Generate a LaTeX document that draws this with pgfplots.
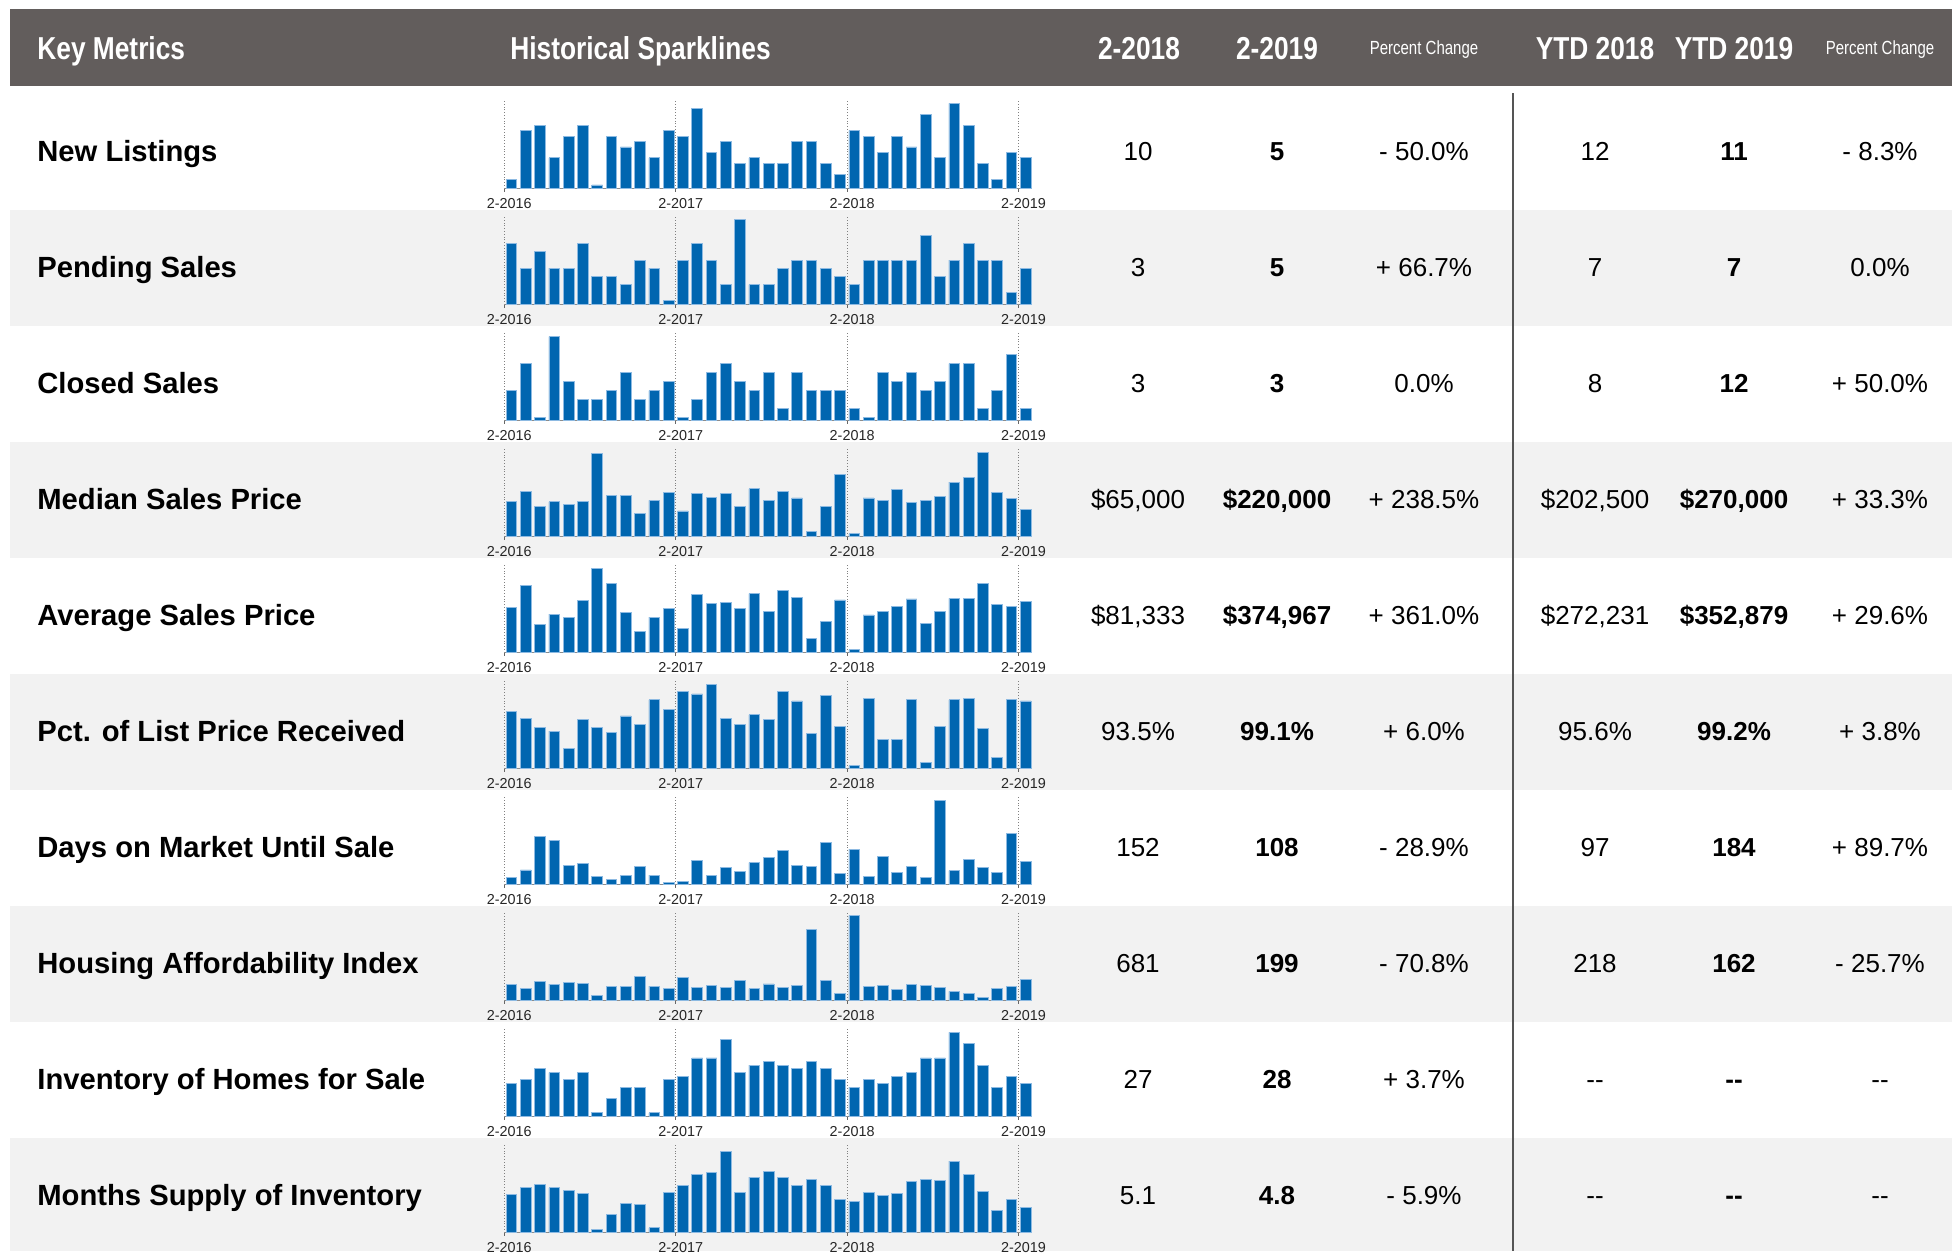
\documentclass[border=0pt]{standalone}
\usepackage{pgfplots}
\pgfplotsset{compat=1.18}
\usepackage{pgfplotstable}
\usepackage{fontspec}
\setmainfont{Liberation Sans}
\newfontfamily\condfont{Liberation Sans}[FakeStretch=0.83]
\newfontfamily\condsmall{Liberation Sans}[FakeStretch=0.79]

\definecolor{hdr}{HTML}{625D5C}
\definecolor{band}{HTML}{F2F2F2}
\definecolor{barfill}{HTML}{0066B0}
\definecolor{baredge}{HTML}{8DBAE2}
\definecolor{divider}{HTML}{555555}

% monthly values 2-2016 ... 2-2019 (37 months)
\pgfplotstableread[row sep=\\]{v\\1\\10\\11\\5\\9\\11\\0\\9\\7\\8\\5\\10\\9\\14\\6\\8\\4\\5\\4\\4\\8\\8\\4\\2\\10\\9\\6\\9\\7\\13\\5\\15\\11\\4\\1\\6\\5\\}\tNL
\pgfplotstableread[row sep=\\]{v\\8\\5\\7\\5\\5\\8\\4\\4\\3\\6\\5\\1\\6\\8\\6\\3\\11\\3\\3\\5\\6\\6\\5\\4\\3\\6\\6\\6\\6\\9\\4\\6\\8\\6\\6\\2\\5\\}\tPS
\pgfplotstableread[row sep=\\]{v\\5\\8\\2\\11\\6\\4\\4\\5\\7\\4\\5\\6\\2\\4\\7\\8\\6\\5\\7\\3\\7\\5\\5\\5\\3\\2\\7\\6\\7\\5\\6\\8\\8\\3\\5\\9\\3\\}\tCS
\pgfplotstableread[row sep=\\]{v\\269000\\335000\\237000\\269000\\254000\\269000\\577000\\309000\\309000\\195000\\279000\\328000\\211000\\322000\\296000\\322000\\239000\\352000\\279000\\335000\\294000\\82000\\239000\\445000\\65000\\294000\\279000\\347000\\265000\\279000\\303000\\394000\\424000\\583000\\328000\\288000\\220000\\}\tMSP
\pgfplotstableread[row sep=\\]{v\\340000\\473000\\236000\\300000\\279000\\385000\\581000\\487000\\312000\\193000\\281000\\334000\\212000\\420000\\367000\\373000\\334000\\426000\\314000\\446000\\401000\\153000\\255000\\386770\\81333\\295000\\316000\\348000\\393000\\242000\\318000\\397000\\397000\\487000\\359000\\345516\\374967\\}\tASP
\pgfplotstableread[row sep=\\]{v\\98.2\\97.6\\96.8\\96.5\\95.0\\97.5\\96.8\\96.4\\97.8\\97.1\\99.2\\98.4\\99.9\\99.7\\100.5\\97.6\\97.1\\97.9\\97.5\\99.9\\99.1\\96.3\\99.6\\96.86\\93.5\\99.3\\95.8\\95.8\\99.2\\93.8\\96.9\\99.2\\99.3\\96.7\\94.2\\99.2\\99.1\\}\tPLP
\pgfplotstableread[row sep=\\]{v\\47\\76\\200\\184\\92\\101\\53\\40\\57\\88\\57\\31\\35\\110\\55\\86\\70\\103\\123\\148\\93\\88\\178\\64\\152\\53\\124\\66\\88\\49\\330\\73\\113\\86\\66\\209\\108\\}\tDOM
\pgfplotstableread[row sep=\\]{v\\164\\131\\186\\164\\176\\169\\76\\144\\146\\222\\149\\134\\212\\139\\154\\141\\191\\131\\166\\139\\154\\578\\191\\96\\681\\146\\154\\124\\164\\154\\141\\109\\94\\66\\134\\149\\199\\}\tHAI
\pgfplotstableread[row sep=\\]{v\\28\\29\\32\\31\\29\\31\\20\\24\\27\\27\\20\\29\\30\\35\\35\\40\\31\\33\\34\\33\\32\\34\\32\\29\\27\\29\\28\\30\\31\\35\\35\\42\\39\\33\\27\\30\\28\\}\tINV
\pgfplotstableread[row sep=\\]{v\\5.48\\5.83\\5.97\\5.8\\5.67\\5.53\\3.72\\4.47\\5.0\\4.95\\3.8\\5.57\\5.92\\6.48\\6.57\\7.63\\5.57\\6.33\\6.62\\6.33\\5.9\\6.23\\5.9\\5.2\\5.1\\5.57\\5.4\\5.5\\6.1\\6.22\\6.15\\7.13\\6.48\\5.6\\4.65\\5.23\\4.8\\}\tMSI

\pgfplotsset{
  spark/.style={
    scale only axis, width=263.9pt, height=44.15pt,
    anchor=south west,
    xmin=-0.5, xmax=36.45,
    axis x line*=bottom, axis y line=none,
    x axis line style={draw=black!45, line width=0.5pt},
    xtick={-0.5,11.5,23.5,35.5},
    xticklabels={2-2016,2-2017,2-2018,2-2019},
    xmajorgrids,
    grid style={densely dotted, draw=black!50, line width=0.45pt},
    major tick length=1.5pt, tick align=outside,
    tick style={draw=black!60, line width=0.45pt},
    xticklabel style={font=\fontsize{7.2pt}{8pt}\selectfont, text=black!85, inner sep=0pt, xshift=2.5pt},
    xticklabel shift=3.5pt,
    ytick=\empty,
  },
  sparkbar/.style={ybar, bar width=0.75, fill=barfill, draw=baredge, line width=0.4pt},
}

\newcommand{\Spark}[4]{%
  \begin{axis}[spark, at={(252.15pt,{-(188.5+116*#1)*0.5pt})}, ymin=0, ymax=#4]
    \addplot[sparkbar] table[x index=0, y index=0, x expr=\coordindex, y expr={\thisrow{v}-(#3)}]{#2};
  \end{axis}}

\newcommand\lblfont{\fontsize{14.6pt}{17pt}\selectfont\bfseries}
\newcommand\valfont{\fontsize{13pt}{15pt}\selectfont}
\newcommand\hdrfont{\condfont\fontsize{15.85pt}{18pt}\selectfont\bfseries}
\newcommand\hdrsmall{\condsmall\fontsize{9.5pt}{11pt}\selectfont}

\newcommand{\Row}[8]{%
  \node[anchor=base west, font=\lblfont] at (37,{151.5+116*#1+10.4}) {#2};
  \node[anchor=base, font=\valfont] at (1138,{151.5+116*#1+9.3}) {#3};
  \node[anchor=base, font=\valfont\bfseries] at (1277,{151.5+116*#1+9.3}) {#4};
  \node[anchor=base, font=\valfont] at (1424,{151.5+116*#1+9.3}) {#5};
  \node[anchor=base, font=\valfont] at (1595,{151.5+116*#1+9.3}) {#6};
  \node[anchor=base, font=\valfont\bfseries] at (1734,{151.5+116*#1+9.3}) {#7};
  \node[anchor=base, font=\valfont] at (1880,{151.5+116*#1+9.3}) {#8};
}

\begin{document}
\begin{tikzpicture}
\begin{scope}[x=0.5pt, y=-0.5pt, every node/.style={inner sep=0pt}]
  \path[use as bounding box] (0,0) rectangle (1952,1251);
  \fill[hdr] (10,9.3) rectangle (1952,85.7);
  \foreach \k in {1,3,5,7} {\fill[band] (10,{93.5+116*\k}) rectangle (1952,{209.5+116*\k});}
  \fill[band] (10,{93.5+116*9}) rectangle (1952,1251);
  \draw[divider, line width=1pt] (1512.5,93) -- (1512.5,1251);
  % header
  \node[anchor=base west, font=\hdrfont, text=white] at (37,59.3) {Key Metrics};
  \node[anchor=base west, font=\hdrfont, text=white] at (510,59.3) {Historical Sparklines};
  \node[anchor=base, font=\hdrfont, text=white] at (1139,59.3) {2-2018};
  \node[anchor=base, font=\hdrfont, text=white] at (1277,59.3) {2-2019};
  \node[anchor=base, font=\hdrsmall, text=white] at (1424,54.3) {Percent Change};
  \node[anchor=base, font=\hdrfont, text=white] at (1595,59.3) {YTD 2018};
  \node[anchor=base, font=\hdrfont, text=white] at (1734,59.3) {YTD 2019};
  \node[anchor=base, font=\hdrsmall, text=white] at (1880,54.3) {Percent Change};
  % rows
  \Row{0}{New Listings}{10}{5}{- 50.0\%}{12}{11}{- 8.3\%}
  \Row{1}{Pending Sales}{3}{5}{+ 66.7\%}{7}{7}{0.0\%}
  \Row{2}{Closed Sales}{3}{3}{0.0\%}{8}{12}{+ 50.0\%}
  \Row{3}{Median Sales Price}{\$65,000}{\$220,000}{+ 238.5\%}{\$202,500}{\$270,000}{+ 33.3\%}
  \Row{4}{Average Sales Price}{\$81,333}{\$374,967}{+ 361.0\%}{\$272,231}{\$352,879}{+ 29.6\%}
  \Row{5}{Pct. of List Price Received}{93.5\%}{99.1\%}{+ 6.0\%}{95.6\%}{99.2\%}{+ 3.8\%}
  \Row{6}{Days on Market Until Sale}{152}{108}{- 28.9\%}{97}{184}{+ 89.7\%}
  \Row{7}{Housing Affordability Index}{681}{199}{- 70.8\%}{218}{162}{- 25.7\%}
  \Row{8}{Inventory of Homes for Sale}{27}{28}{+ 3.7\%}{-{}-}{-{}-}{-{}-}
  \Row{9}{Months Supply of Inventory}{5.1}{4.8}{- 5.9\%}{-{}-}{-{}-}{-{}-}
\end{scope}
\Spark{0}{\tNL}{-0.66}{16.26}
\Spark{1}{\tPS}{0.55}{10.82}
\Spark{2}{\tCS}{1.667}{9.813}
\Spark{3}{\tMSP}{48016}{562595}
\Spark{4}{\tASP}{65021}{540335}
\Spark{5}{\tPLP}{93.27}{7.615}
\Spark{6}{\tDOM}{22.4}{324}
\Spark{7}{\tHAI}{40.9}{665.2}
\Spark{8}{\tINV}{19}{24.1}
\Spark{9}{\tMSI}{3.567}{4.413}
\end{tikzpicture}
\end{document}
